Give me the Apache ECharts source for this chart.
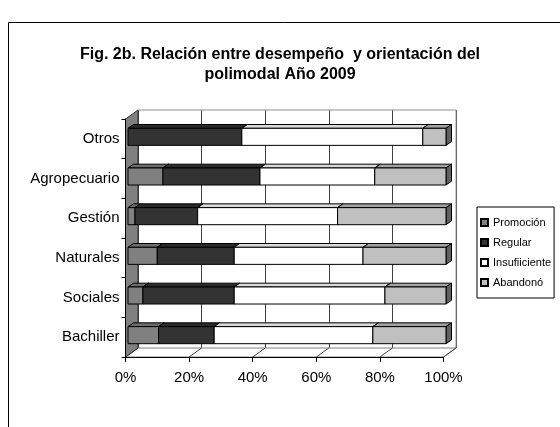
<!DOCTYPE html>
<html>
<head>
<meta charset="utf-8">
<script src="https://cdn.jsdelivr.net/npm/echarts@6/dist/echarts.min.js"></script>
<style>
  html, body { margin: 0; padding: 0; background: #fff; }
  #chart { width: 560px; height: 427px; }
</style>
</head>
<body>
<div id="chart"></div>
<script>
// categorias de abajo hacia arriba
const categories = ['Bachiller', 'Sociales', 'Naturales', 'Gestión', 'Agropecuario', 'Otros'];
const seriesNames = ['Promoción', 'Regular', 'Insufiiciente', 'Abandonó'];
const promocion = [9.6, 4.7, 9.2, 2.2, 11.0, 0];
const regular = [17.5, 28.7, 24.2, 19.7, 30.5, 35.8];
const insuficiente = [49.9, 47.4, 40.5, 44.0, 36.1, 56.9];
const abandono = [23.0, 19.2, 26.1, 34.1, 22.4, 7.3];
const xTicks = [0, 20, 40, 60, 80, 100];

const values = [promocion, regular, insuficiente, abandono];
const colors = ['#808080', '#333333', '#ffffff', '#c0c0c0'];
const FONT = 'Liberation Sans, Arial, sans-serif';

// desplazamientos del efecto 3D (plano trasero -> cara frontal)
const FRONT = [-12.5, 9];
const BAR = [-10, 7];
const DEPTH = [5.5, -3.8];

function shade(hex, k) {
  const n = parseInt(hex.slice(1), 16);
  const r = Math.round(((n >> 16) & 255) * k);
  const g = Math.round(((n >> 8) & 255) * k);
  const b = Math.round((n & 255) * k);
  return 'rgb(' + r + ',' + g + ',' + b + ')';
}

function barRenderer(color) {
  return function (params, api) {
    const cat = api.value(0), a = api.value(1), b = api.value(2);
    if (b - a <= 0) return;
    const p0 = api.coord([a, cat]), p1 = api.coord([b, cat]);
    const h = api.size([0, 1])[1] * 0.43;
    const x0 = p0[0] + BAR[0], x1 = p1[0] + BAR[0];
    const y0 = p0[1] + BAR[1] - h / 2, y1 = y0 + h;
    const dx = DEPTH[0], dy = DEPTH[1];
    const line = { stroke: '#000', lineWidth: 1 };
    return {
      type: 'group',
      children: [
        { type: 'polygon', shape: { points: [[x0, y0], [x0 + dx, y0 + dy], [x1 + dx, y0 + dy], [x1, y0]] },
          style: Object.assign({ fill: shade(color, 0.85) }, line) },
        { type: 'polygon', shape: { points: [[x1, y0], [x1 + dx, y0 + dy], [x1 + dx, y1 + dy], [x1, y1]] },
          style: Object.assign({ fill: shade(color, 0.5) }, line) },
        { type: 'rect', shape: { x: x0, y: y0, width: x1 - x0, height: h },
          style: Object.assign({ fill: color }, line) }
      ]
    };
  };
}

function boxRenderer(params, api) {
  const cs = params.coordSys;
  const L = cs.x, T = cs.y, R = cs.x + cs.width, B = cs.y + cs.height;
  const fx = FRONT[0], fy = FRONT[1];
  const children = [
    { type: 'polygon', shape: { points: [[L, B], [R, B], [R + fx, B + fy], [L + fx, B + fy]] },
      style: { fill: '#fff', stroke: '#808080', lineWidth: 1 } },
    { type: 'polygon', shape: { points: [[L, T], [L, B], [L + fx, B + fy], [L + fx, T + fy]] },
      style: { fill: '#808080', stroke: '#333', lineWidth: 1 } },
    { type: 'polyline', shape: { points: [[L, T], [R, T], [R, B]] },
      style: { fill: null, stroke: '#909090', lineWidth: 1 } }
  ];
  xTicks.forEach(function (v) {
    const x = api.coord([v, 0])[0];
    children.push({ type: 'line', shape: { x1: x, y1: B, x2: x + fx, y2: B + fy },
      style: { stroke: '#404040', lineWidth: 1 } });
  });
  return { type: 'group', children: children };
}

const series = [{
  type: 'custom',
  xAxisIndex: 0, yAxisIndex: 0,
  renderItem: boxRenderer,
  data: [[0, 0]],
  silent: true,
  z: 1
}];
values.forEach(function (vals, s) {
  const data = vals.map(function (v, i) {
    let start = 0;
    for (let k = 0; k < s; k++) start += values[k][i];
    return [i, start, start + v];
  });
  series.push({
    name: seriesNames[s],
    type: 'custom',
    xAxisIndex: 0, yAxisIndex: 0,
    renderItem: barRenderer(colors[s]),
    encode: { x: [1, 2], y: 0 },
    itemStyle: { color: colors[s], borderColor: '#000', borderWidth: 1 },
    data: data,
    z: 2
  });
});

const chart = echarts.init(document.getElementById('chart'));
chart.setOption({
  animation: false,
  textStyle: { fontFamily: FONT },
  title: {
    text: 'Fig. 2b. Relación entre desempeño  y orientación del\npolimodal Año 2009',
    left: 'center',
    top: 40,
    textStyle: { fontFamily: FONT, fontSize: 16, fontWeight: 'bold', color: '#000', lineHeight: 20 }
  },
  legend: {
    data: seriesNames,
    orient: 'vertical',
    left: 477,
    top: 207,
    padding: [9, 3, 9, 3],
    itemWidth: 7,
    itemHeight: 7,
    itemGap: 7,
    icon: 'rect',
    borderColor: '#000',
    borderWidth: 1,
    textStyle: { fontFamily: FONT, fontSize: 11, color: '#000', lineHeight: 13 }
  },
  graphic: [{
    type: 'rect',
    shape: { x: 8.5, y: 22.5, width: 700, height: 600 },
    style: { fill: null, stroke: '#000', lineWidth: 1 },
    silent: true
  }],
  grid: [
    { left: 138, top: 110, width: 318, height: 238 },
    { left: 138 + FRONT[0], top: 110 + FRONT[1], width: 318, height: 238 }
  ],
  xAxis: [{
    gridIndex: 0, type: 'value', min: 0, max: 100, interval: 20,
    axisLine: { show: false }, axisTick: { show: false }, axisLabel: { show: false },
    splitLine: { show: true, lineStyle: { color: '#404040', width: 1 } }
  }, {
    gridIndex: 1, type: 'value', min: 0, max: 100, interval: 20, z: 5,
    axisLine: { show: true, lineStyle: { color: '#000', width: 1 } },
    axisTick: { show: true, length: 5, lineStyle: { color: '#000' } },
    axisLabel: { formatter: '{value}%', fontFamily: FONT, fontSize: 15, color: '#000', margin: 13 },
    splitLine: { show: false }
  }],
  yAxis: [{
    gridIndex: 0, type: 'category', data: categories,
    axisLine: { show: false }, axisTick: { show: false }, axisLabel: { show: false },
    splitLine: { show: false }
  }, {
    gridIndex: 1, type: 'category', data: categories, z: 5,
    axisLine: { show: true, lineStyle: { color: '#000', width: 1 } },
    axisTick: { show: true, length: 4, lineStyle: { color: '#000' } },
    axisLabel: { fontFamily: FONT, fontSize: 15, color: '#000', margin: 6 },
    splitLine: { show: false }
  }],
  series: series
});
</script>
</body>
</html>
